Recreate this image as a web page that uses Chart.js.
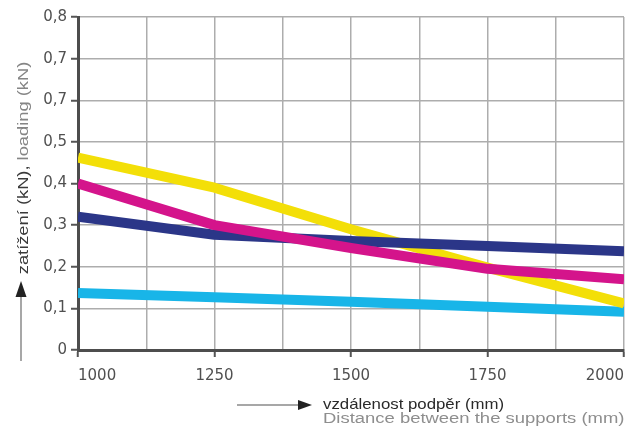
<!DOCTYPE html>
<html>
<head>
<meta charset="utf-8">
<script src="https://cdn.jsdelivr.net/npm/chart.js@4/dist/chart.umd.min.js"></script>
<style>
    html, body { margin: 0; padding: 0; background: #fff; }
    #wrap { width: 634px; height: 431px; }
</style>
</head>
<body>
<div id="wrap"><canvas id="loadChart" width="634" height="431"></canvas></div>
<script>
// distances between supports (mm)
const distances = [1000, 1250, 1500, 1750, 2000];
// loads (kN)
const magentaLoad = [0.40, 0.30, 0.245, 0.195, 0.17];
const navyLoad = [0.32, 0.277, 0.262, 0.25, 0.237];
const yellowLoad = [0.462, 0.39, 0.29, 0.198, 0.112];
const cyanLoad = [0.137, 0.127, 0.116, 0.104, 0.092];

const xTickLabels = ["1000", "1250", "1500", "1750", "2000"];
// labels as printed in the original (0,6 shows as 0,7)
const yTickLabels = ["0", "0,1", "0,2", "0,3", "0,4", "0,5", "0,7", "0,7", "0,8"];

const font = "'Liberation Sans', Arial, sans-serif";
const tickFont = "'DejaVu Sans', sans-serif";

const toPoints = values => values.map((v, i) => ({ x: distances[i], y: v }));

const axisTitles = {
    id: "axisTitles",
    afterDraw(chart) {
        const ctx = chart.ctx;
        ctx.save();

        // y axis arrow
        ctx.strokeStyle = "#8a8a8a";
        ctx.lineWidth = 1.5;
        ctx.beginPath();
        ctx.moveTo(21, 361);
        ctx.lineTo(21, 295);
        ctx.stroke();
        ctx.fillStyle = "#222";
        ctx.beginPath();
        ctx.moveTo(21, 281);
        ctx.lineTo(15.5, 297);
        ctx.lineTo(26.5, 297);
        ctx.closePath();
        ctx.fill();

        // y axis title
        ctx.save();
        ctx.translate(24, 168);
        ctx.rotate(-Math.PI / 2);
        ctx.scale(1.22, 1);
        ctx.font = "15px " + font;
        ctx.textBaseline = "middle";
        const partA = "zatížení (kN), ";
        const partB = "loading (kN)";
        const wA = ctx.measureText(partA).width;
        const wB = ctx.measureText(partB).width;
        const sx = -(wA + wB) / 2;
        ctx.fillStyle = "#3a3a3a";
        ctx.fillText(partA, sx, 0);
        ctx.fillStyle = "#858585";
        ctx.fillText(partB, sx + wA, 0);
        ctx.restore();

        // x axis arrow
        ctx.strokeStyle = "#8a8a8a";
        ctx.lineWidth = 1.5;
        ctx.beginPath();
        ctx.moveTo(237, 405);
        ctx.lineTo(300, 405);
        ctx.stroke();
        ctx.fillStyle = "#222";
        ctx.beginPath();
        ctx.moveTo(312, 405);
        ctx.lineTo(298, 400);
        ctx.lineTo(298, 410);
        ctx.closePath();
        ctx.fill();

        // x axis title, two lines
        ctx.textBaseline = "alphabetic";
        ctx.save();
        ctx.translate(323, 0);
        ctx.scale(1.12, 1);
        ctx.font = "15px " + font;
        ctx.fillStyle = "#2a2a2a";
        ctx.fillText("vzdálenost podpěr (mm)", 0, 409);
        ctx.restore();
        ctx.save();
        ctx.translate(323, 0);
        ctx.scale(1.19, 1);
        ctx.font = "15.5px " + font;
        ctx.fillStyle = "#8e8e8e";
        ctx.fillText("Distance between the supports (mm)", 0, 423);
        ctx.restore();

        ctx.restore();
    }
};

const lineStyle = color => ({
    borderColor: color,
    backgroundColor: color,
    borderWidth: 10,
    pointRadius: 0,
    tension: 0,
    borderCapStyle: "butt",
    borderJoinStyle: "round",
    fill: false
});

new Chart(document.getElementById("loadChart"), {
    type: "line",
    data: {
        datasets: [
            { label: "magenta", data: toPoints(magentaLoad), ...lineStyle("#d4148b") },
            { label: "navy", data: toPoints(navyLoad), ...lineStyle("#2b3688") },
            { label: "yellow", data: toPoints(yellowLoad), ...lineStyle("#f3df08") },
            { label: "cyan", data: toPoints(cyanLoad), ...lineStyle("#18b5e8") }
        ]
    },
    options: {
        responsive: false,
        animation: false,
        devicePixelRatio: 1,
        layout: { padding: { top: 17, right: 9, left: 0, bottom: 0 } },
        plugins: {
            legend: { display: false },
            tooltip: { enabled: false }
        },
        scales: {
            x: {
                type: "linear",
                min: 1000,
                max: 2000,
                afterFit: scale => { scale.height = 81; },
                afterBuildTicks: scale => {
                    scale.ticks = [];
                    for (let v = 1000; v <= 2000; v += 125) scale.ticks.push({ value: v });
                },
                ticks: {
                    autoSkip: false,
                    maxRotation: 0,
                    align: "inner",
                    padding: 10,
                    color: "#505050",
                    font: { family: tickFont, size: 15 },
                    callback: value => {
                        const idx = distances.indexOf(value);
                        return idx >= 0 ? xTickLabels[idx] : "";
                    }
                },
                grid: {
                    color: "#adadad",
                    lineWidth: 1.5,
                    tickLength: 7,
                    tickWidth: 2,
                    tickColor: ctx => (distances.includes(ctx.tick && ctx.tick.value) ? "#555" : "rgba(0,0,0,0)")
                },
                border: { color: "#4d4d4d", width: 3 }
            },
            y: {
                min: 0,
                max: 0.8,
                afterFit: scale => { scale.width = 78; },
                afterBuildTicks: scale => {
                    scale.ticks = yTickLabels.map((_, i) => ({ value: i / 10 }));
                },
                ticks: {
                    autoSkip: false,
                    padding: 4,
                    color: "#505050",
                    font: { family: tickFont, size: 15 },
                    callback: (value, index) => yTickLabels[index]
                },
                grid: {
                    color: "#adadad",
                    lineWidth: 1.5,
                    tickLength: 7,
                    tickWidth: 2,
                    tickColor: "#555"
                },
                border: { color: "#4d4d4d", width: 3 }
            }
        }
    },
    plugins: [axisTitles]
});
</script>
</body>
</html>
